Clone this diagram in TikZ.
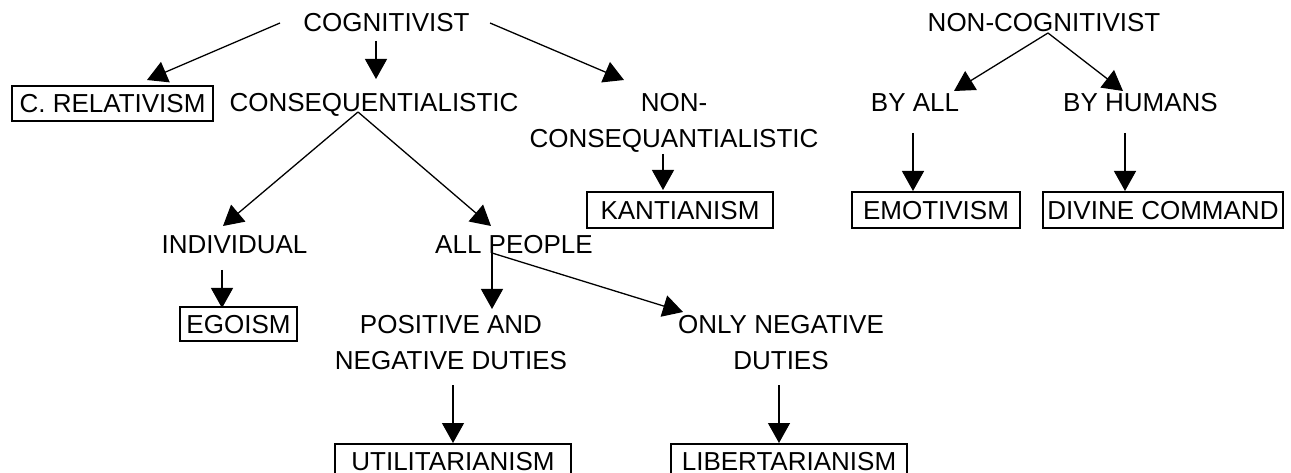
\documentclass[tikz,border=0pt]{standalone}
\usepackage{fontspec}
\setmainfont{Liberation Sans}
\usetikzlibrary{arrows.meta}
\tikzset{
  lbl/.style={anchor=base, inner sep=0pt, font=\fontsize{26}{36}\selectfont, align=center},
  boxed/.style={draw, line width=2pt, inner sep=0pt, minimum height=35pt,
    text height=18.6pt, text depth=0pt, font=\fontsize{26}{36}\selectfont},
  arr/.style={line width=1.3pt, -{Triangle[length=20pt,width=22pt]}}
}
\begin{document}
\begin{tikzpicture}[x=1pt,y=-1pt]
\useasboundingbox (0,0) rectangle (1291,473);
% text nodes (multi-line nodes are placed at the baseline of their last line)
\node[lbl] (cog) at (386.5,32) {COGNITIVIST};
\node[lbl] (noncog) at (1044,32) {NON-COGNITIVIST};
\node[lbl] (cons) at (374,112) {CONSEQUENTIALISTIC};
\node[lbl] (noncons) at (674,148) {NON-\\CONSEQUANTIALISTIC};
\node[lbl] (byall) at (915,112) {BY ALL};
\node[lbl] (byhum) at (1140.5,112) {BY HUMANS};
\node[lbl] (indiv) at (234.5,254) {INDIVIDUAL};
\node[lbl] (allp) at (514,254) {ALL PEOPLE};
\node[lbl] (pos) at (451,369) {POSITIVE AND\\NEGATIVE DUTIES};
\node[lbl] (only) at (781,369) {ONLY NEGATIVE\\DUTIES};
% boxes
\node[boxed, minimum width=201pt] (crel) at (112.5,103.5) {C. RELATIVISM};
\node[boxed, minimum width=186pt, minimum height=36pt] (kant) at (680,210) {KANTIANISM};
\node[boxed, minimum width=168pt, minimum height=36pt] (emot) at (936,210) {EMOTIVISM};
\node[boxed, minimum width=240pt, minimum height=36pt] (div) at (1163,210) {DIVINE COMMAND};
\node[boxed, minimum width=117pt, minimum height=34pt] (ego) at (238.5,324) {EGOISM};
\node[boxed, minimum width=236pt] (util) at (453,461.5) {UTILITARIANISM};
\node[boxed, minimum width=236pt] (lib) at (789,461.5) {LIBERTARIANISM};
% connector end points
\coordinate (c1s) at (280,23);   \coordinate (c1e) at (147,80);
\coordinate (c2s) at (376,41);   \coordinate (c2e) at (376,79);
\coordinate (c3s) at (490,23);   \coordinate (c3e) at (624,80);
\coordinate (consf) at (358,112);
\coordinate (c4e) at (223,226);  \coordinate (c5e) at (491,226);
\coordinate (c6s) at (663,154);  \coordinate (c6e) at (663,190);
\coordinate (ncf) at (1048,33);
\coordinate (c7e) at (954,91);   \coordinate (c8e) at (1123,91);
\coordinate (c9s) at (913,133);  \coordinate (c9e) at (913,191);
\coordinate (c10s) at (1125,133); \coordinate (c10e) at (1125,191);
\coordinate (c11s) at (222,270); \coordinate (c11e) at (222,308);
\coordinate (apf) at (492,253);
\coordinate (c12e) at (492,309); \coordinate (c13e) at (683,312);
\coordinate (c14s) at (453,385); \coordinate (c14e) at (453,443);
\coordinate (c15s) at (779,385); \coordinate (c15e) at (779,443);
% connectors
\draw[arr] (c1s) -- (c1e);
\draw[arr] (c2s) -- (c2e);
\draw[arr] (c3s) -- (c3e);
\draw[arr] (consf) -- (c4e);
\draw[arr] (consf) -- (c5e);
\draw[arr] (c6s) -- (c6e);
\draw[arr] (ncf) -- (c7e);
\draw[arr] (ncf) -- (c8e);
\draw[arr] (c9s) -- (c9e);
\draw[arr] (c10s) -- (c10e);
\draw[arr] (c11s) -- (c11e);
\draw[arr] (apf) -- (c12e);
\draw[arr] (apf) -- (c13e);
\draw[arr] (c14s) -- (c14e);
\draw[arr] (c15s) -- (c15e);
\end{tikzpicture}
\end{document}
